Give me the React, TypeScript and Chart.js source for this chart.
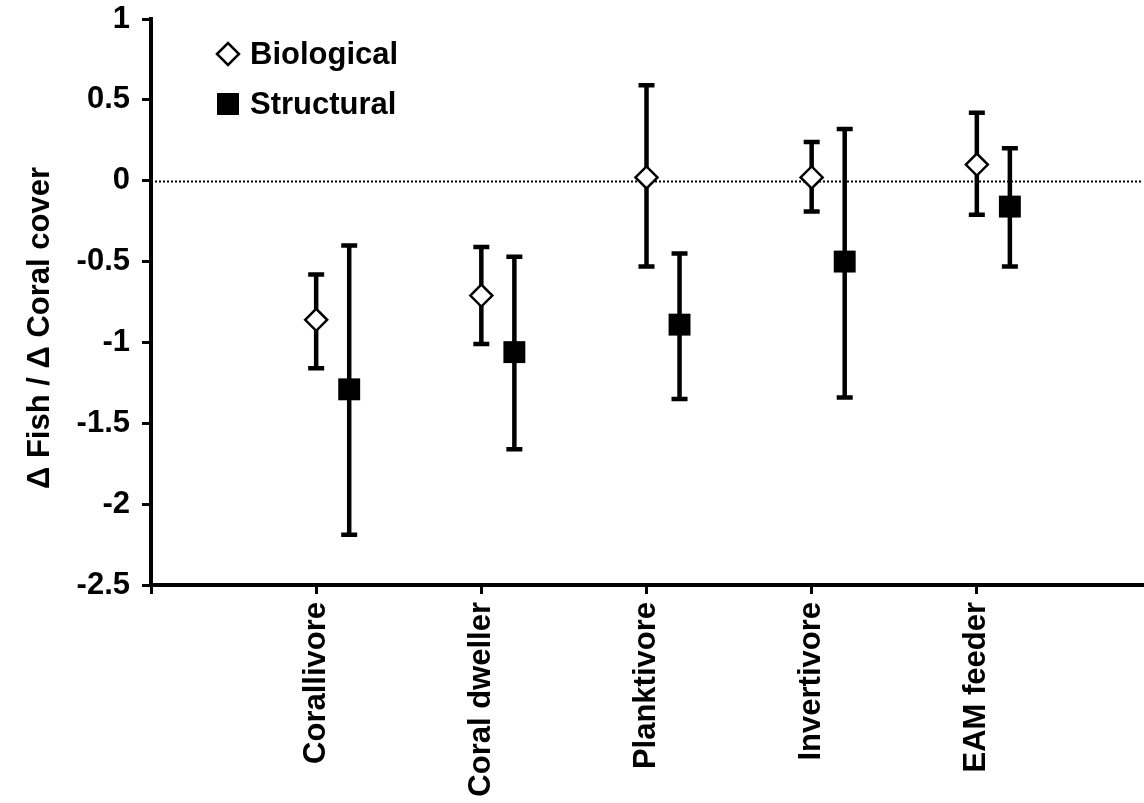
import { useEffect, useRef } from "react";
import { Chart, registerables } from "chart.js";

Chart.register(...registerables);

const categories = ["Corallivore", "Coral dweller", "Planktivore", "Invertivore", "EAM feeder"];
const categoryPositions = [1, 2, 3, 4, 5];
const structuralShift = 0.2;

const bioMean = [-0.86, -0.71, 0.02, 0.02, 0.1];
const bioUpper = [-0.58, -0.41, 0.59, 0.24, 0.42];
const bioLower = [-1.16, -1.01, -0.53, -0.19, -0.21];

const structMean = [-1.29, -1.06, -0.89, -0.5, -0.16];
const structUpper = [-0.4, -0.47, -0.45, 0.32, 0.2];
const structLower = [-2.19, -1.66, -1.35, -1.34, -0.53];

const yTickValues = [1, 0.5, 0, -0.5, -1, -1.5, -2, -2.5];
const xTickValues = [0, 1, 2, 3, 4, 5];

const seriesNames = ["Biological", "Structural"];
const yTitle = "\u0394 Fish / \u0394 Coral cover";

const FONT = "'Liberation Sans', Arial, Helvetica, sans-serif";
const FONT_SIZE = 31;

const errorBarPlugin = {
  id: "errorBars",
  beforeDatasetsDraw(chart: any) {
    const { ctx, chartArea, scales } = chart;
    const xs = scales.x;
    const ys = scales.y;
    ctx.save();
    ctx.strokeStyle = "#000";
    ctx.lineWidth = 2;
    ctx.setLineDash([2, 2]);
    const y0 = Math.round(ys.getPixelForValue(0)) + 0.5;
    ctx.beginPath();
    ctx.moveTo(chartArea.left, y0);
    ctx.lineTo(chartArea.right, y0);
    ctx.stroke();
    ctx.restore();

    const groups = [
      { upper: bioUpper, lower: bioLower, shift: 0 },
      { upper: structUpper, lower: structLower, shift: structuralShift },
    ];
    ctx.save();
    ctx.strokeStyle = "#000";
    ctx.lineWidth = 4.5;
    ctx.lineCap = "butt";
    groups.forEach((g) => {
      categoryPositions.forEach((p, i) => {
        const x = xs.getPixelForValue(p + g.shift);
        const yTop = ys.getPixelForValue(g.upper[i]);
        const yBot = ys.getPixelForValue(g.lower[i]);
        ctx.beginPath();
        ctx.moveTo(x, yTop);
        ctx.lineTo(x, yBot);
        ctx.moveTo(x - 8, yTop);
        ctx.lineTo(x + 8, yTop);
        ctx.moveTo(x - 8, yBot);
        ctx.lineTo(x + 8, yBot);
        ctx.stroke();
      });
    });
    ctx.restore();
  },
  afterDraw(chart: any) {
    const { ctx, chartArea } = chart;
    ctx.save();
    ctx.translate(49, (chartArea.top + chartArea.bottom) / 2 + 26);
    ctx.rotate(-Math.PI / 2);
    ctx.font = `bold ${FONT_SIZE}px ${FONT}`;
    ctx.fillStyle = "#000";
    ctx.textAlign = "center";
    ctx.textBaseline = "alphabetic";
    ctx.fillText(yTitle, 0, 0);
    ctx.restore();

    const lx = chartArea.left + 77;
    const ly1 = chartArea.top + 35;
    const ly2 = chartArea.top + 85;
    ctx.save();
    ctx.fillStyle = "#fff";
    ctx.strokeStyle = "#000";
    ctx.lineWidth = 2.5;
    ctx.beginPath();
    ctx.moveTo(lx - 11, ly1);
    ctx.lineTo(lx, ly1 - 11);
    ctx.lineTo(lx + 11, ly1);
    ctx.lineTo(lx, ly1 + 11);
    ctx.closePath();
    ctx.fill();
    ctx.stroke();
    ctx.fillStyle = "#000";
    ctx.fillRect(lx - 11, ly2 - 11, 22, 22);
    ctx.font = `bold ${FONT_SIZE}px ${FONT}`;
    ctx.textAlign = "left";
    ctx.textBaseline = "middle";
    ctx.fillText(seriesNames[0], lx + 22, ly1 + 1);
    ctx.fillText(seriesNames[1], lx + 22, ly2 + 1);
    ctx.restore();
  },
};

function zeroPadding(scale: any) {
  scale.paddingTop = 0;
  scale.paddingBottom = 0;
  scale.paddingLeft = 0;
  scale.paddingRight = 0;
}

export default function App() {
  const ref = useRef<HTMLCanvasElement | null>(null);

  useEffect(() => {
    if (!ref.current) return;
    const chart = new Chart(ref.current, {
      type: "scatter",
      data: {
        datasets: [
          {
            label: seriesNames[0],
            data: categoryPositions.map((p, i) => ({ x: p, y: bioMean[i] })),
            pointStyle: "rectRot",
            pointRadius: 11,
            pointHoverRadius: 11,
            backgroundColor: "#fff",
            borderColor: "#000",
            borderWidth: 2.5,
            showLine: false,
          },
          {
            label: seriesNames[1],
            data: categoryPositions.map((p, i) => ({ x: p + structuralShift, y: structMean[i] })),
            pointStyle: "rect",
            pointRadius: 15.5,
            pointHoverRadius: 15.5,
            backgroundColor: "#000",
            borderColor: "#000",
            borderWidth: 0,
            showLine: false,
          },
        ],
      },
      options: {
        responsive: false,
        animation: false,
        devicePixelRatio: 1,
        layout: { autoPadding: false, padding: { top: 19, right: 2, left: 0, bottom: 0 } },
        plugins: {
          legend: { display: false },
          tooltip: { enabled: false },
        },
        events: [],
        scales: {
          x: {
            type: "linear",
            min: 0,
            max: 6,
            afterBuildTicks: (scale: any) => {
              scale.ticks = xTickValues.map((v) => ({ value: v }));
            },
            afterFit: (scale: any) => {
              scale.height = 218;
              zeroPadding(scale);
            },
            ticks: {
              minRotation: 90,
              maxRotation: 90,
              autoSkip: false,
              padding: 8,
              color: "#000",
              font: { family: FONT, size: FONT_SIZE, weight: "bold" },
              callback: (value: any) => {
                const idx = categoryPositions.indexOf(Number(value));
                return idx >= 0 ? categories[idx] : "";
              },
            },
            grid: {
              display: true,
              drawOnChartArea: false,
              drawTicks: true,
              tickLength: 9,
              lineWidth: 3,
              color: "#000",
            },
            border: { display: true, color: "#000", width: 4 },
          },
          y: {
            type: "linear",
            min: -2.5,
            max: 1,
            afterBuildTicks: (scale: any) => {
              scale.ticks = yTickValues.map((v) => ({ value: v }));
            },
            afterFit: (scale: any) => {
              scale.width = 151;
              zeroPadding(scale);
            },
            ticks: {
              padding: 12,
              color: "#000",
              font: { family: FONT, size: FONT_SIZE, weight: "bold" },
              callback: (value: any) => String(value),
            },
            grid: {
              display: true,
              drawOnChartArea: false,
              drawTicks: true,
              tickLength: 9,
              lineWidth: 3,
              color: "#000",
            },
            border: { display: true, color: "#000", width: 4 },
          },
        },
      },
      plugins: [errorBarPlugin],
    } as any);
    return () => chart.destroy();
  }, []);

  return (
    <div style={{ position: "absolute", left: 0, top: 0, width: 1144, height: 803, background: "#fff" }}>
      <canvas ref={ref} width={1144} height={803} style={{ display: "block" }} />
    </div>
  );
}
